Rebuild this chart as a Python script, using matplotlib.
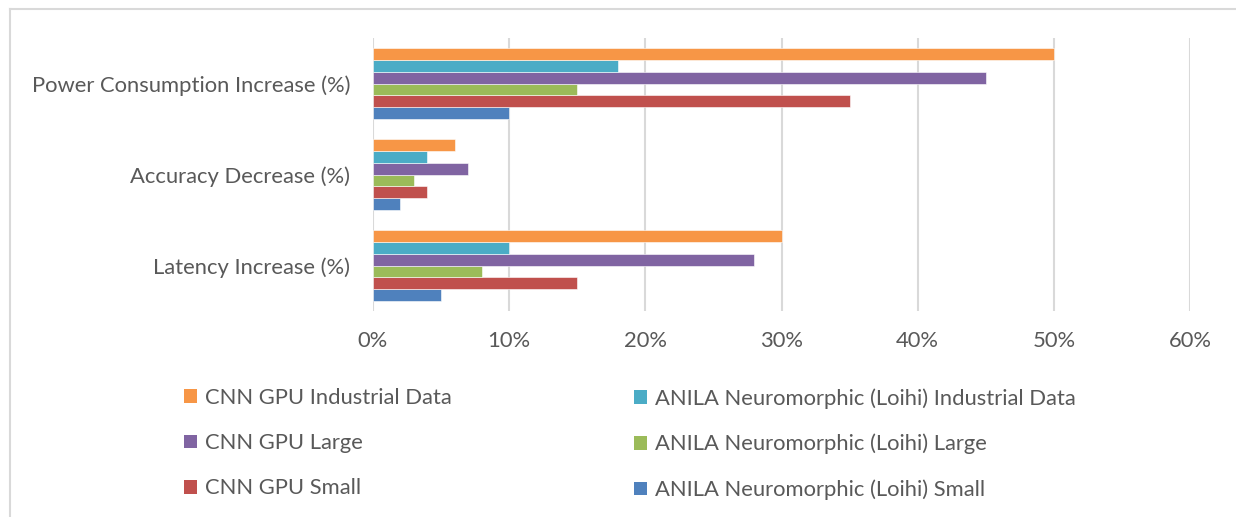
import numpy as np
import matplotlib.pyplot as plt
from matplotlib.patches import Patch
from matplotlib.lines import Line2D

plt.rcParams['font.family'] = ['Lato', 'DejaVu Sans']

# categories, bottom to top
categorias = ['Latency Increase (%)', 'Accuracy Decrease (%)', 'Power Consumption Increase (%)']

# series in Excel order (first series drawn at the bottom of each group)
series = [
    'ANILA Neuromorphic (Loihi) Small',
    'CNN GPU Small',
    'ANILA Neuromorphic (Loihi) Large',
    'CNN GPU Large',
    'ANILA Neuromorphic (Loihi) Industrial Data',
    'CNN GPU Industrial Data',
]
valores = [
    [5, 2, 10],
    [15, 4, 35],
    [8, 3, 15],
    [28, 7, 45],
    [10, 4, 18],
    [30, 6, 50],
]
cores = ['#4F81BD', '#C0504D', '#9BBB59', '#8064A2', '#4BACC6', '#F79646']

ticks_x = [0, 10, 20, 30, 40, 50, 60]
tick_labels = ['0%', '10%', '20%', '30%', '40%', '50%', '60%']

cinza = '#595959'
fs = 15.8

fig = plt.figure(figsize=(12.36, 5.17), dpi=100)
ax = fig.add_axes([373 / 1236, 1 - 311 / 517, (1190 - 373) / 1236, (311 - 38) / 517])

n = len(series)
grupo = 0.77
h = grupo / n
y = np.arange(len(categorias))
for i, (nome, vals, cor) in enumerate(zip(series, valores, cores)):
    ax.barh(y - grupo / 2 + h * (i + 0.5), vals, height=h, color=cor,
            edgecolor='white', linewidth=0.4, label=nome, zorder=3)

ax.set_xlim(0, 60)
ax.set_ylim(-0.5, 2.5)
ax.set_xticks(ticks_x)
ax.set_xticklabels(tick_labels)
ax.set_yticks(y)
ax.set_yticklabels(categorias)
ax.grid(axis='x', color='#D9D9D9', linewidth=1.5, zorder=0)
for s in ax.spines.values():
    s.set_visible(False)
ax.tick_params(axis='both', length=0, labelsize=fs, labelcolor=cinza)
ax.tick_params(axis='y', pad=16.5)
ax.tick_params(axis='x', pad=14.5)

# legend: two columns, each one its own legend so the columns sit where Excel put them
col1 = [5, 3, 1]
col2 = [4, 2, 0]
for idx, x0 in [(col1, 184), (col2, 634)]:
    hs = [Patch(facecolor=cores[k], edgecolor='none') for k in idx]
    ls = [series[k] for k in idx]
    leg = fig.legend(hs, ls, loc='upper left', bbox_to_anchor=(x0 / 1236, 1 - 388 / 517),
                     frameon=False, fontsize=fs, labelcolor=cinza, borderpad=0, borderaxespad=0,
                     handlelength=0.6, handleheight=0.6, handletextpad=0.37, labelspacing=1.15)

# outer chart frame
fig.add_artist(Line2D([9.5 / 1236, 9.5 / 1236], [0, 1 - 9 / 517], color='#D9D9D9', linewidth=1.5))
fig.add_artist(Line2D([9.5 / 1236, 1], [1 - 9 / 517, 1 - 9 / 517], color='#D9D9D9', linewidth=1.5))

plt.savefig('out.png', dpi=100)
